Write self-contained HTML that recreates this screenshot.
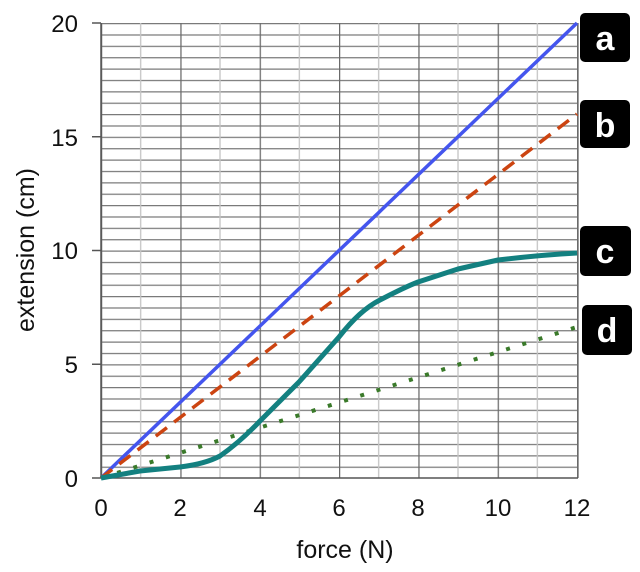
<!DOCTYPE html>
<html><head><meta charset="utf-8"><style>
body{margin:0;background:#fff;}
svg{display:block;font-family:"Liberation Sans",Arial,sans-serif;}
</style></head><body>
<svg width="640" height="572" viewBox="0 0 640 572" xmlns="http://www.w3.org/2000/svg">
<defs>
<pattern id="gp" patternUnits="userSpaceOnUse" x="101" y="23" width="79.333" height="11.375">
<line x1="0" x2="79.333" y1="0.6" y2="0.6" stroke="#7a7a7a" stroke-width="1.3"/>
<line x1="39.67" x2="39.67" y1="0" y2="11.375" stroke="#c4c4c4" stroke-width="1.3"/>
<line x1="0.6" x2="0.6" y1="0" y2="11.375" stroke="#6a6a6a" stroke-width="1.3"/>
</pattern>
</defs>
<rect x="101" y="23" width="477.5" height="455" fill="url(#gp)"/>
<line x1="578" x2="578" y1="23" y2="478" stroke="#6a6a6a" stroke-width="1.3"/>
<line x1="101" x2="101" y1="23" y2="478" stroke="#555" stroke-width="1.5"/>
<line x1="92" x2="578" y1="478" y2="478" stroke="#555" stroke-width="1.5"/>
<g stroke="#555" stroke-width="1.5">
<line x1="92" x2="101" y1="364.25" y2="364.25"/>
<line x1="92" x2="101" y1="250.5" y2="250.5"/>
<line x1="92" x2="101" y1="136.75" y2="136.75"/>
<line x1="92" x2="101" y1="23" y2="23"/>
</g>
<g font-size="24" fill="#111">
<text x="78" y="487" text-anchor="end">0</text>
<text x="78" y="373" text-anchor="end">5</text>
<text x="78" y="259" text-anchor="end">10</text>
<text x="78" y="146" text-anchor="end">15</text>
<text x="78" y="32" text-anchor="end">20</text>
<text x="101" y="516" text-anchor="middle">0</text>
<text x="180" y="516" text-anchor="middle">2</text>
<text x="260" y="516" text-anchor="middle">4</text>
<text x="339" y="516" text-anchor="middle">6</text>
<text x="418" y="516" text-anchor="middle">8</text>
<text x="498" y="516" text-anchor="middle">10</text>
<text x="577" y="516" text-anchor="middle">12</text>
<text x="345" y="558" text-anchor="middle" font-size="25">force (N)</text>
<text transform="translate(34,250) rotate(-90)" text-anchor="middle" font-size="25">extension (cm)</text>
</g>
<line x1="101" y1="478" x2="577" y2="23" stroke="#4455ee" stroke-width="3.5"/>
<line x1="101" y1="478" x2="577" y2="114" stroke="#cc4411" stroke-width="3.5" stroke-dasharray="14,9"/>
<line x1="101" y1="478" x2="577" y2="327" stroke="#3a7a2a" stroke-width="4" stroke-dasharray="4,13"/>
<path d="M101,478 L140,471 L180,467 Q205,464 220,456 Q240,442 260,421 L299,382 L339,337 Q360,310 380,300 Q405,287 418,282 L458,269 L498,260 Q540,255 577,253" fill="none" stroke="#138080" stroke-width="5" stroke-linejoin="round"/>
<g font-size="34" font-weight="bold" fill="#fff" text-anchor="middle">
<rect x="580" y="13" width="50" height="49" rx="5" fill="#000"/><text x="605" y="50">a</text>
<rect x="580" y="100" width="50" height="48" rx="5" fill="#000"/><text x="605" y="137">b</text>
<rect x="580" y="226" width="51" height="50" rx="5" fill="#000"/><text x="605" y="263">c</text>
<rect x="582" y="305" width="50" height="50" rx="5" fill="#000"/><text x="607" y="342">d</text>
</g>
</svg>
</body></html>
